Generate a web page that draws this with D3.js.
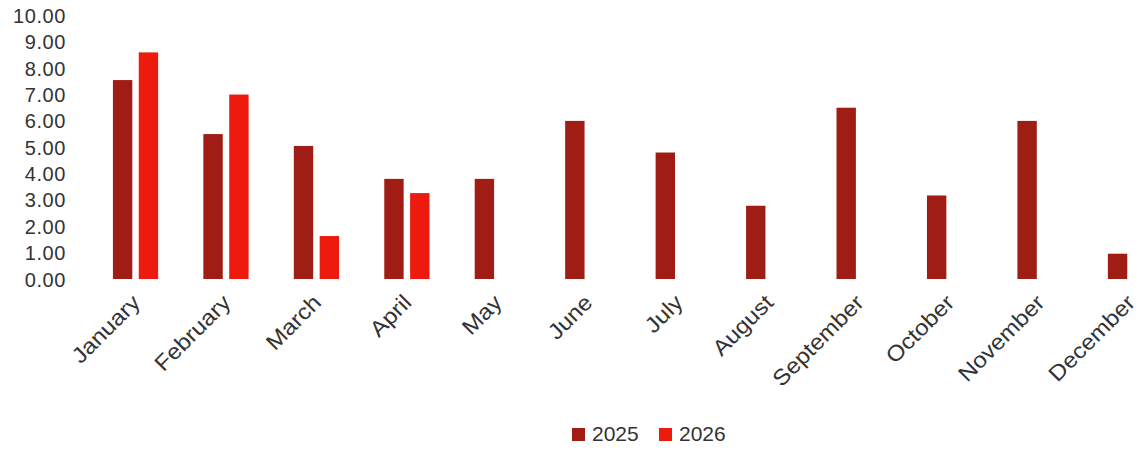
<!DOCTYPE html>
<html>
<head>
<meta charset="utf-8">
<script src="https://cdn.jsdelivr.net/npm/d3@7"></script>
<style>
  html, body { margin: 0; padding: 0; background: #ffffff; }
  svg { display: block; }
  text { font-family: "Liberation Sans", Arial, Helvetica, sans-serif; fill: #333333; }
</style>
</head>
<body>
<script>
const months = ["January","February","March","April","May","June","July","August","September","October","November","December"];
const seriesNames = ["2025","2026"];
const values2025 = [7.55, 5.5, 5.05, 3.8, 3.8, 6.0, 4.8, 2.78, 6.5, 3.17, 6.0, 0.96];
const values2026 = [8.6, 7.0, 1.63, 3.26, null, null, null, null, null, null, null, null];
const yTicks = [0,1,2,3,4,5,6,7,8,9,10];
const colors = ["#9f1d14", "#ec1b0d"];

const W = 1140, H = 451;
const svg = d3.select("body").append("svg").attr("width", W).attr("height", H);

const x0 = d3.scaleBand().domain(months).range([90.3, 1175.7]).paddingInner(0.5).paddingOuter(0.25);
const x1 = d3.scaleBand().domain(seriesNames).range([0, x0.bandwidth()]).paddingInner(0.25);
const y = d3.scaleLinear().domain([0, 10]).range([279, 15.5]);

// y axis
const yAxis = d3.axisLeft(y).tickValues(yTicks).tickFormat(d3.format(".2f")).tickSize(0).tickPadding(0);
const yg = svg.append("g").attr("transform", "translate(66,0)").call(yAxis);
yg.select(".domain").remove();
yg.selectAll("text").style("font-size", "20px").attr("fill", "#3a3a3a").attr("letter-spacing", "0.6px").attr("dy", "0.35em");

// bars
const data = months.map((m, i) => ({ month: m, vals: [values2025[i], values2026[i]] }));
const groups = svg.append("g").selectAll("g").data(data).join("g")
  .attr("transform", d => `translate(${x0(d.month)},0)`);
groups.selectAll("rect")
  .data(d => d.vals.map((v, j) => ({ key: seriesNames[j], v, j })).filter(e => e.v != null))
  .join("rect")
  .attr("x", e => x1(e.key))
  .attr("width", x1.bandwidth())
  .attr("y", e => y(e.v))
  .attr("height", e => y(0) - y(e.v))
  .attr("fill", e => colors[e.j]);

// x axis labels
const xAxis = d3.axisBottom(x0).tickSize(0).tickPadding(0);
const xg = svg.append("g").call(xAxis);
xg.select(".domain").remove();
xg.selectAll(".tick").attr("transform", d => `translate(${x0(d) + x0.bandwidth()/2 + 6},304)`);
xg.selectAll("text")
  .attr("y", 0).attr("dy", "0")
  .attr("text-anchor", "end")
  .attr("transform", "rotate(-45) scale(1.1,1)")
  .style("font-size", "22px")
  .attr("fill", "#333333");

// legend
const legend = svg.append("g").attr("transform", "translate(572,428)");
const items = [{ name: seriesNames[0], x: 0 }, { name: seriesNames[1], x: 87 }];
items.forEach((it, j) => {
  const g = legend.append("g").attr("transform", `translate(${it.x},0)`);
  g.append("rect").attr("width", 13).attr("height", 13).attr("fill", colors[j]);
  g.append("text").attr("x", 20).attr("y", 13).style("font-size", "21px").attr("fill", "#333333").text(it.name);
});
</script>
</body>
</html>
